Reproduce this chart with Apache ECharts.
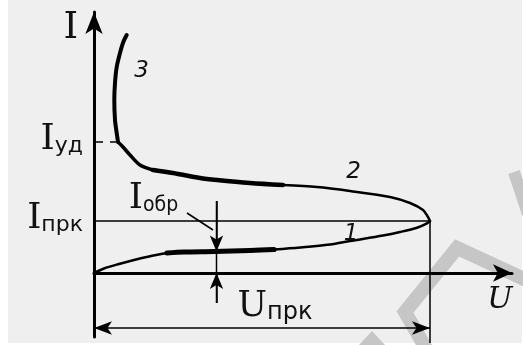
<!DOCTYPE html>
<html>
<head>
<meta charset="utf-8">
<script src="https://cdn.jsdelivr.net/npm/echarts@6/dist/echarts.min.js"></script>
<style>
  html, body { margin: 0; padding: 0; background: #fff; }
  #chart { width: 523px; height: 345px; }
</style>
</head>
<body>
<div id="chart"></div>
<script>
// Forward current-voltage characteristic of a four-layer switch (dinistor).
// Units are arbitrary: voltage along U, current along I.

const U_MAX = 418;      // end of the voltage axis
const I_MAX = 261;      // end of the current axis
const I_MIN = -64;      // axis extends below zero for the dimension lines

const U_PRK = 336;      // breakover voltage
const I_PRK = 52;       // breakover current
const I_UD = 131;       // holding current
const I_OBR = 21.5;     // off-state (blocking) current level
const U_OBR_MARK = 122.5; // where the off-state current is dimensioned
const DIM_Y = -55;      // level of the breakover-voltage dimension line

// Branch 1: off-state (blocking) region up to breakover
const branch1 = [
  [0, 0], [10, 4.5], [25, 9], [40, 13], [55, 16.5], [73, 20], [90, 21],
  [120, 21.5], [156, 22.5], [180, 23.5], [206, 25.5], [236, 28.5],
  [256, 32], [289, 37.5], [306, 41], [323, 45.3], [333, 49.7], [336, 52]
];
// Branch 2: negative-resistance region from breakover back to holding point
const branch2 = [
  [336, 52], [334, 56], [329, 63], [316, 70], [296, 76], [256, 82],
  [223, 86], [189, 88], [156, 90], [123, 93], [106, 95], [79, 100],
  [59, 103], [46, 108], [36, 118], [29, 126], [24, 131]
];
// Branch 3: on-state region above the holding current
const branch3 = [
  [24, 131], [22.7, 140], [21, 153], [20.3, 173], [21, 190],
  [22.7, 206], [26, 220], [29.3, 231], [32.7, 238]
];

// Tick labels on the current axis
const yTickValues = [I_PRK, I_UD];
const yTickSubs = { [I_PRK]: 'прк', [I_UD]: 'уд' };
const curveNames = ['1', '2', '3'];
const curveNamePos = [[257, 39], [259.5, 100.5], [47.5, 202]];

const INK = '#000';
const TEXT = '#111';

const rich = {
  i: { fontFamily: 'DejaVu Serif', fontSize: 36, lineHeight: 36, color: TEXT },
  s: { fontFamily: 'DejaVu Sans', fontSize: 22, lineHeight: 26, verticalAlign: 'bottom', color: TEXT },
  n: { fontFamily: 'DejaVu Sans Condensed, DejaVu Sans', fontSize: 21, lineHeight: 25, verticalAlign: 'bottom', color: TEXT },
  u: { fontFamily: 'DejaVu Serif', fontSize: 35, lineHeight: 36, color: TEXT },
  t: { fontFamily: 'DejaVu Sans', fontSize: 24, lineHeight: 27, verticalAlign: 'bottom', color: TEXT }
};

// Stroke weight changes along each branch: [first index, last index, width]
const branch1Strokes = [[0, 5, 2.5], [5, 9, 5], [9, 17, 2.5]];
const branch2Strokes = [[0, 7, 2.5], [7, 12, 4.5], [12, 16, 3.5]];
const branch3Strokes = [[0, 8, 4]];

function curveLabel(k) {
  return {
    symbol: 'circle', symbolSize: 0, silent: true,
    label: {
      show: true, position: 'inside', formatter: curveNames[k],
      fontFamily: 'DejaVu Sans', fontStyle: 'italic', fontSize: 23, color: TEXT
    },
    data: [{ coord: curveNamePos[k] }]
  };
}

function branchSeries(name, pts, strokes, labelIdx) {
  return strokes.map(([a, b, w], j) => {
    const s = {
      name, type: 'line', data: pts.slice(a, b + 1), smooth: 0.3,
      symbol: 'none', clip: false, silent: true, z: 4,
      lineStyle: { color: INK, width: w, cap: 'round', join: 'round' }
    };
    if (j === 0) s.markPoint = curveLabel(labelIdx);
    return s;
  });
}

const chart = echarts.init(document.getElementById('chart'), null, { renderer: 'canvas' });

const option = {
  animation: false,
  backgroundColor: '#efefef',
  grid: { left: 94, right: 11, top: 12, bottom: 8, containLabel: false },
  xAxis: {
    type: 'value', min: 0, max: U_MAX, z: 3,
    name: 'U', nameLocation: 'end', nameGap: -12,
    nameTextStyle: {
      fontFamily: 'DejaVu Serif', fontStyle: 'italic', fontSize: 30, color: TEXT,
      align: 'center', verticalAlign: 'top', padding: [12, 0, 0, 0]
    },
    axisLine: {
      onZero: true, symbol: ['none', 'arrow'], symbolSize: [13, 19],
      lineStyle: { color: INK, width: 3 }
    },
    axisTick: { show: false }, axisLabel: { show: false }, splitLine: { show: false }
  },
  yAxis: {
    type: 'value', min: I_MIN, max: I_MAX, z: 3,
    name: 'I', nameLocation: 'end', nameGap: -16,
    nameTextStyle: {
      fontFamily: 'DejaVu Serif', fontSize: 37, color: TEXT,
      align: 'right', verticalAlign: 'middle', padding: [0, 16, 0, 0]
    },
    axisLine: {
      symbol: ['none', 'arrow'], symbolSize: [13, 22],
      lineStyle: { color: INK, width: 3 }
    },
    axisTick: { show: false },
    splitLine: { show: false },
    axisLabel: {
      customValues: yTickValues,
      margin: 11,
      padding: [0, 0, 5, 0],
      formatter: v => '{i|I}{s|' + (yTickSubs[v] || '') + '}',
      rich
    }
  },
  graphic: [
    { type: 'rect', z: 0, shape: { x: 0, y: 0, width: 8, height: 345 }, style: { fill: '#fff' } },
    { type: 'rect', z: 0, shape: { x: 0, y: 343, width: 523, height: 2 }, style: { fill: '#fff' } },
    { type: 'rect', z: 0, shape: { x: 522, y: 0, width: 1, height: 345 }, style: { fill: '#fff' } },
    { type: 'polyline', z: 0, shape: { points: [[428, 352], [405, 312], [457, 248], [535, 284]] },
      style: { stroke: '#c6c6c6', lineWidth: 14, fill: null, lineJoin: 'miter' } },
    { type: 'line', z: 0, shape: { x1: 514, y1: 172, x2: 528, y2: 214 },
      style: { stroke: '#c6c6c6', lineWidth: 12 } },
    { type: 'polygon', z: 0, shape: { points: [[358, 346], [372, 331], [386, 346]] },
      style: { fill: '#c6c6c6' } }
  ],
  series: [
    ...branchSeries('1', branch1, branch1Strokes, 0),
    ...branchSeries('2', branch2, branch2Strokes, 1),
    ...branchSeries('3', branch3, branch3Strokes, 2),
    // breakover current level
    { name: 'Iпрк', type: 'line', symbol: 'none', silent: true, z: 3,
      data: [[0, I_PRK], [U_PRK, I_PRK]], lineStyle: { color: INK, width: 1.5 } },
    // holding current marker
    { name: 'Iуд', type: 'line', symbol: 'none', silent: true, z: 3,
      data: [[0, I_UD], [branch3[0][0], I_UD]],
      lineStyle: { color: INK, width: 1.5, type: [9, 7] } },
    // breakover voltage projection and its dimension line
    { name: 'Uпрк', type: 'line', symbol: 'none', silent: true, z: 3, clip: false,
      data: [[U_PRK, I_PRK], [U_PRK, -70]], lineStyle: { color: INK, width: 1.5 },
      markLine: {
        silent: true, symbol: ['arrow', 'arrow'], symbolSize: [10, 18],
        lineStyle: { color: INK, width: 1.5, type: 'solid' }, label: { show: false },
        data: [[{ coord: [0, DIM_Y] }, { coord: [U_PRK, DIM_Y] }]]
      },
      markPoint: {
        symbol: 'circle', symbolSize: 0, silent: true,
        label: { show: true, position: 'inside', formatter: '{u|U}{t|прк}', rich },
        data: [{ coord: [181, -33.5] }]
      }
    },
    // off-state current dimension
    { name: 'Iобр', type: 'line', symbol: 'none', silent: true, z: 3, clip: false,
      data: [[U_OBR_MARK, 72], [U_OBR_MARK, -30]], lineStyle: { color: INK, width: 1.5 },
      markLine: {
        silent: true, symbol: ['none', 'arrow'], symbolSize: [10, 16],
        lineStyle: { color: INK, width: 1.5, type: 'solid' }, label: { show: false },
        data: [
          [{ coord: [U_OBR_MARK, 72] }, { coord: [U_OBR_MARK, I_OBR] }],
          [{ coord: [U_OBR_MARK, -30] }, { coord: [U_OBR_MARK, 0] }],
          [{ coord: [93, 60], symbol: 'none' }, { coord: [119, 43], symbol: 'none' }]
        ]
      },
      markPoint: {
        symbol: 'circle', symbolSize: 0, silent: true,
        label: { show: true, position: 'inside', formatter: '{i|I}{n|обр}', rich },
        data: [{ coord: [59.5, 74.5] }]
      }
    }
  ]
};

chart.setOption(option);
</script>
</body>
</html>
